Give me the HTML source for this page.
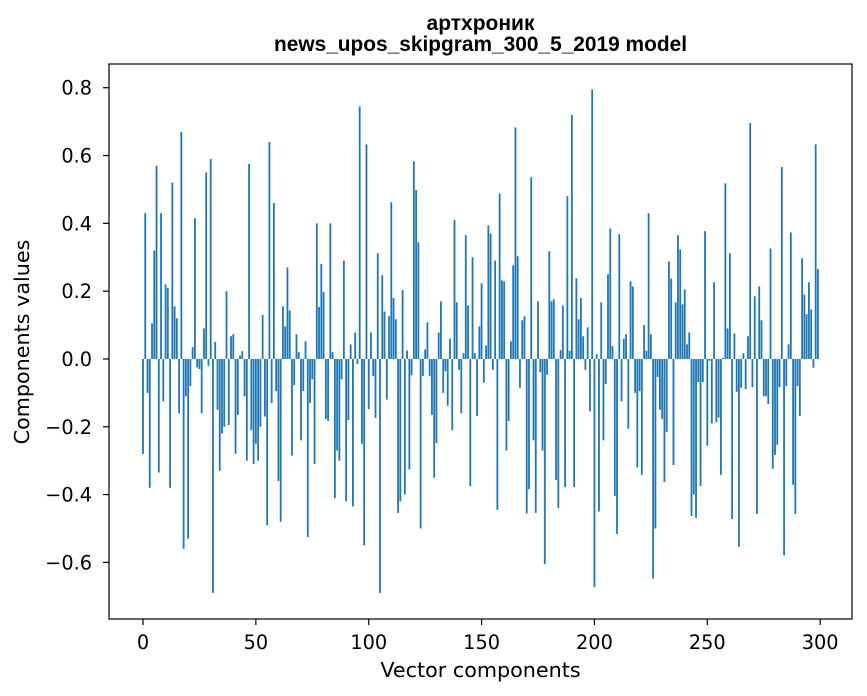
<!DOCTYPE html>
<html><head><meta charset="utf-8"><style>
html,body{margin:0;padding:0;background:#fff;}
svg{display:block;font-family:"DejaVu Sans","Liberation Sans",sans-serif;}
</style></head><body>
<svg id="chart" width="867" height="696" viewBox="0 0 867 696" xmlns="http://www.w3.org/2000/svg">
<rect width="867" height="696" fill="#fff"/>
<text x="480.5" y="30" text-anchor="middle" font-size="21" font-weight="bold" font-family="Liberation Sans, Noto Sans CJK SC, sans-serif">артхроник</text>
<text x="480.5" y="51" text-anchor="middle" font-size="21" font-weight="bold" font-family="Liberation Sans, sans-serif" textLength="413" lengthAdjust="spacingAndGlyphs">news_upos_skipgram_300_5_2019 model</text>
<g id="bars"></g>
<g id="axes"></g>
<text x="480.5" y="677" text-anchor="middle" font-size="20.7">Vector components</text>
<text transform="translate(29,342) rotate(-90)" text-anchor="middle" font-size="20.7">Components values</text>
</svg>
<script>
const values = [
-0.28,0.43,-0.10,-0.38,0.105,0.32,0.57,-0.335,0.43,-0.125,0.22,0.21,-0.38,0.52,0.155,0.12,-0.16,0.67,-0.56,-0.11,
-0.53,-0.08,0.035,0.415,-0.025,-0.03,-0.16,0.09,0.55,-0.02,0.59,-0.69,0.05,-0.15,-0.33,-0.22,-0.20,0.20,-0.195,0.067,
0.073,-0.28,-0.165,0.01,0.023,-0.11,-0.30,0.575,-0.21,-0.31,-0.25,-0.30,-0.20,0.13,-0.17,-0.49,0.64,-0.13,0.46,-0.095,
-0.36,-0.48,0.155,0.096,0.27,0.143,-0.285,-0.077,0.073,0.02,-0.24,-0.095,0.052,-0.525,-0.13,-0.06,-0.31,0.40,0.153,0.28,
0.197,-0.177,-0.183,0.40,0.02,-0.41,-0.27,-0.30,-0.06,0.29,-0.42,-0.18,0.043,-0.435,0.078,-0.015,0.745,-0.25,-0.55,0.633,
-0.148,0.078,-0.05,-0.174,0.312,-0.69,0.247,0.14,-0.12,0.126,0.462,0.18,0.117,-0.454,-0.42,0.203,-0.40,0.025,-0.326,-0.048,
0.583,0.498,0.344,-0.50,-0.05,0.028,0.108,-0.05,-0.165,-0.35,-0.248,0.078,0.17,-0.10,-0.036,-0.138,0.06,-0.21,0.41,0.167,
-0.032,-0.16,0.017,0.365,0.158,-0.375,0.30,0.017,-0.168,0.096,0.223,-0.07,0.04,0.394,0.37,-0.032,0.29,-0.445,0.488,0.232,
0.229,-0.27,-0.183,0.052,0.276,0.683,0.303,-0.085,0.114,0.126,-0.456,-0.384,0.536,-0.24,-0.454,0.17,-0.039,-0.27,-0.605,-0.047,
0.318,0.17,0.176,-0.357,-0.44,0.026,0.158,-0.378,0.48,0.024,0.72,-0.378,0.238,0.117,0.18,0.067,-0.032,0.093,-0.154,0.795,
-0.673,0.014,-0.45,0.167,-0.24,-0.074,0.25,0.385,0.038,-0.404,-0.516,0.368,-0.125,0.06,0.073,-0.206,0.229,0.214,-0.10,-0.32,
-0.095,-0.342,0.10,0.024,0.43,0.073,-0.648,-0.50,-0.053,-0.15,-0.177,-0.363,-0.215,0.288,0.237,-0.313,0.167,0.365,0.323,0.161,
0.205,0.043,0.078,-0.463,-0.40,-0.469,-0.068,-0.375,-0.068,0.377,-0.256,-0.005,-0.19,0.226,-0.187,-0.173,-0.342,0.003,0.518,0.09,
0.312,-0.472,0.075,-0.097,-0.554,-0.085,0.017,-0.089,0.067,0.696,-0.083,0.185,-0.457,0.214,0.114,-0.11,-0.11,-0.133,0.326,-0.324,
-0.283,-0.253,-0.083,0.566,-0.579,-0.08,0.043,0.373,-0.371,-0.457,-0.08,-0.168,0.297,0.19,0.132,0.226,0.146,-0.026,0.633,0.265
];
const xTicks = [0,50,100,150,200,250,300];
const yTicks = [-0.6,-0.4,-0.2,0.0,0.2,0.4,0.6,0.8];
const yTickLabels = ["\u22120.6","\u22120.4","\u22120.2","0.0","0.2","0.4","0.6","0.8"];

const L=109,R=852,T=64,B=619;
const xMin=-15.06,xMax=314.1,yMin=-0.767,yMax=0.870;
const sx=v=>L+(v-xMin)/(xMax-xMin)*(R-L);
const sy=v=>T+(yMax-v)/(yMax-yMin)*(B-T);
const NS="http://www.w3.org/2000/svg";
const bars=document.getElementById('bars');
values.forEach((v,i)=>{
  const r=document.createElementNS(NS,'rect');
  const x0=sx(i-0.4),x1=sx(i+0.4);
  const y0=sy(Math.max(v,0)),y1=sy(Math.min(v,0));
  r.setAttribute('x',x0);r.setAttribute('width',x1-x0);
  r.setAttribute('y',y0);r.setAttribute('height',Math.max(y1-y0,0.01));
  r.setAttribute('fill','#1f77b4');
  
  
  bars.appendChild(r);
});
const ax=document.getElementById('axes');
const frame=document.createElementNS(NS,'rect');
frame.setAttribute('x',L);frame.setAttribute('y',T);frame.setAttribute('width',R-L);frame.setAttribute('height',B-T);
frame.setAttribute('fill','none');frame.setAttribute('stroke','#000');frame.setAttribute('stroke-width','1.2');


ax.appendChild(frame);
xTicks.forEach(t=>{
  const x=sx(t);
  const l=document.createElementNS(NS,'line');
  l.setAttribute('x1',x);l.setAttribute('x2',x);l.setAttribute('y1',B);l.setAttribute('y2',B+6);
  l.setAttribute('stroke','#000');l.setAttribute('stroke-width','1.2');
  
  
  ax.appendChild(l);
  const tx=document.createElementNS(NS,'text');
  tx.setAttribute('x',x);tx.setAttribute('y',B+30);tx.setAttribute('text-anchor','middle');tx.setAttribute('font-size','19.3');
  tx.textContent=t;
  
  
  ax.appendChild(tx);
});
yTicks.forEach((t,i)=>{
  const y=sy(t);
  const l=document.createElementNS(NS,'line');
  l.setAttribute('x1',L-6);l.setAttribute('x2',L);l.setAttribute('y1',y);l.setAttribute('y2',y);
  l.setAttribute('stroke','#000');l.setAttribute('stroke-width','1.2');
  
  
  ax.appendChild(l);
  const tx=document.createElementNS(NS,'text');
  tx.setAttribute('x',L-17);tx.setAttribute('y',y+7);tx.setAttribute('text-anchor','end');tx.setAttribute('font-size','19.3');
  tx.textContent=yTickLabels[i];
  
  
  ax.appendChild(tx);
});
</script>
</body></html>
